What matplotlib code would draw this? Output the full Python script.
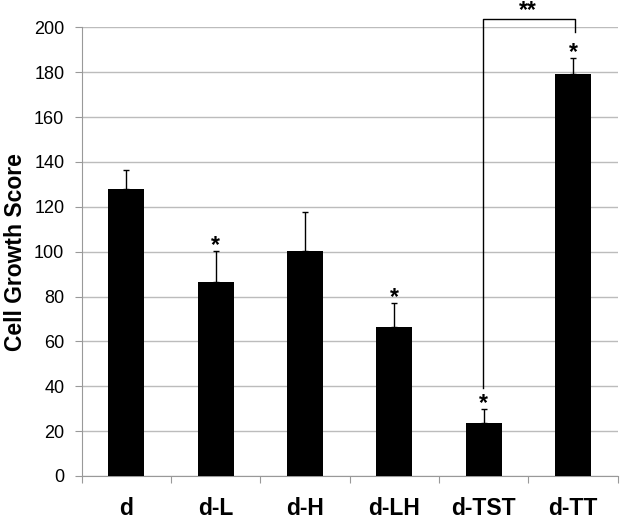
import matplotlib.pyplot as plt
import numpy as np

plt.rcParams['font.family'] = ['Liberation Sans', 'DejaVu Sans']

groups = ['d', 'd-L', 'd-H', 'd-LH', 'd-TST', 'd-TT']
scores = [128, 86.5, 100.4, 66.3, 23.8, 179.2]
errors = [8.5, 13.9, 17.3, 11.0, 6.1, 7.0]
signif = ['', '*', '', '*', '*', '*']

# bracket between d-TST and d-TT
bracket_top = 203.7
bracket_left_end = 39.2
bracket_right_end = 197.8

fig = plt.figure(figsize=(6.22, 5.26), dpi=100)
ax = fig.add_axes([0.1313, 0.0951, 0.8617, 0.853])

x = np.arange(len(groups))
ax.bar(x, scores, width=0.4, color='black', zorder=3)
ax.errorbar(x, scores, yerr=[np.zeros(len(errors)), errors], fmt='none',
            ecolor='black', elinewidth=1, capsize=2, capthick=1, zorder=4)

# asterisk glyph sits high above the baseline, so place by baseline
for xi, s, e, lab in zip(x, scores, errors, signif):
    if lab:
        ax.text(xi, s + e - 0.5, lab, ha='center', va='baseline',
                fontsize=16.5, fontweight='bold', zorder=5)

i1, i2 = 4, 5
ax.plot([i1 - 0.01, i1 - 0.01, i2 + 0.025, i2 + 0.025],
        [bracket_left_end, bracket_top, bracket_top, bracket_right_end],
        color='black', lw=1, clip_on=False, zorder=5)
ax.text((i1 + i2) / 2, bracket_top + 0.7, '**', ha='center', va='baseline',
        fontsize=16.5, fontweight='bold')

ax.set_xlim(-0.5, len(groups) - 0.5)
ax.set_ylim(0, 200)
ax.set_yticks(range(0, 201, 20))
ax.set_xticks(np.arange(-0.5, len(groups), 1), minor=False)
ax.set_xticklabels([])
ax.set_xticks(x, minor=True)
ax.set_xticklabels(groups, minor=True, fontsize=16.5, fontweight='bold')
ax.tick_params(axis='x', which='minor', length=0, pad=15)
ax.tick_params(axis='x', which='major', length=5, color='#999999')
ax.tick_params(axis='y', length=5, color='#999999', labelsize=13, pad=7.5)

ax.yaxis.grid(True, color='#bcbcbc', lw=1, zorder=0)
ax.set_axisbelow(True)
for side in ['top', 'right']:
    ax.spines[side].set_visible(False)
ax.spines['left'].set_color('#999999')
ax.spines['bottom'].set_color('#999999')

ax.set_ylabel('Cell Growth Score', fontsize=16.5, fontweight='bold', labelpad=5)

fig.savefig('out.png', dpi=100)
